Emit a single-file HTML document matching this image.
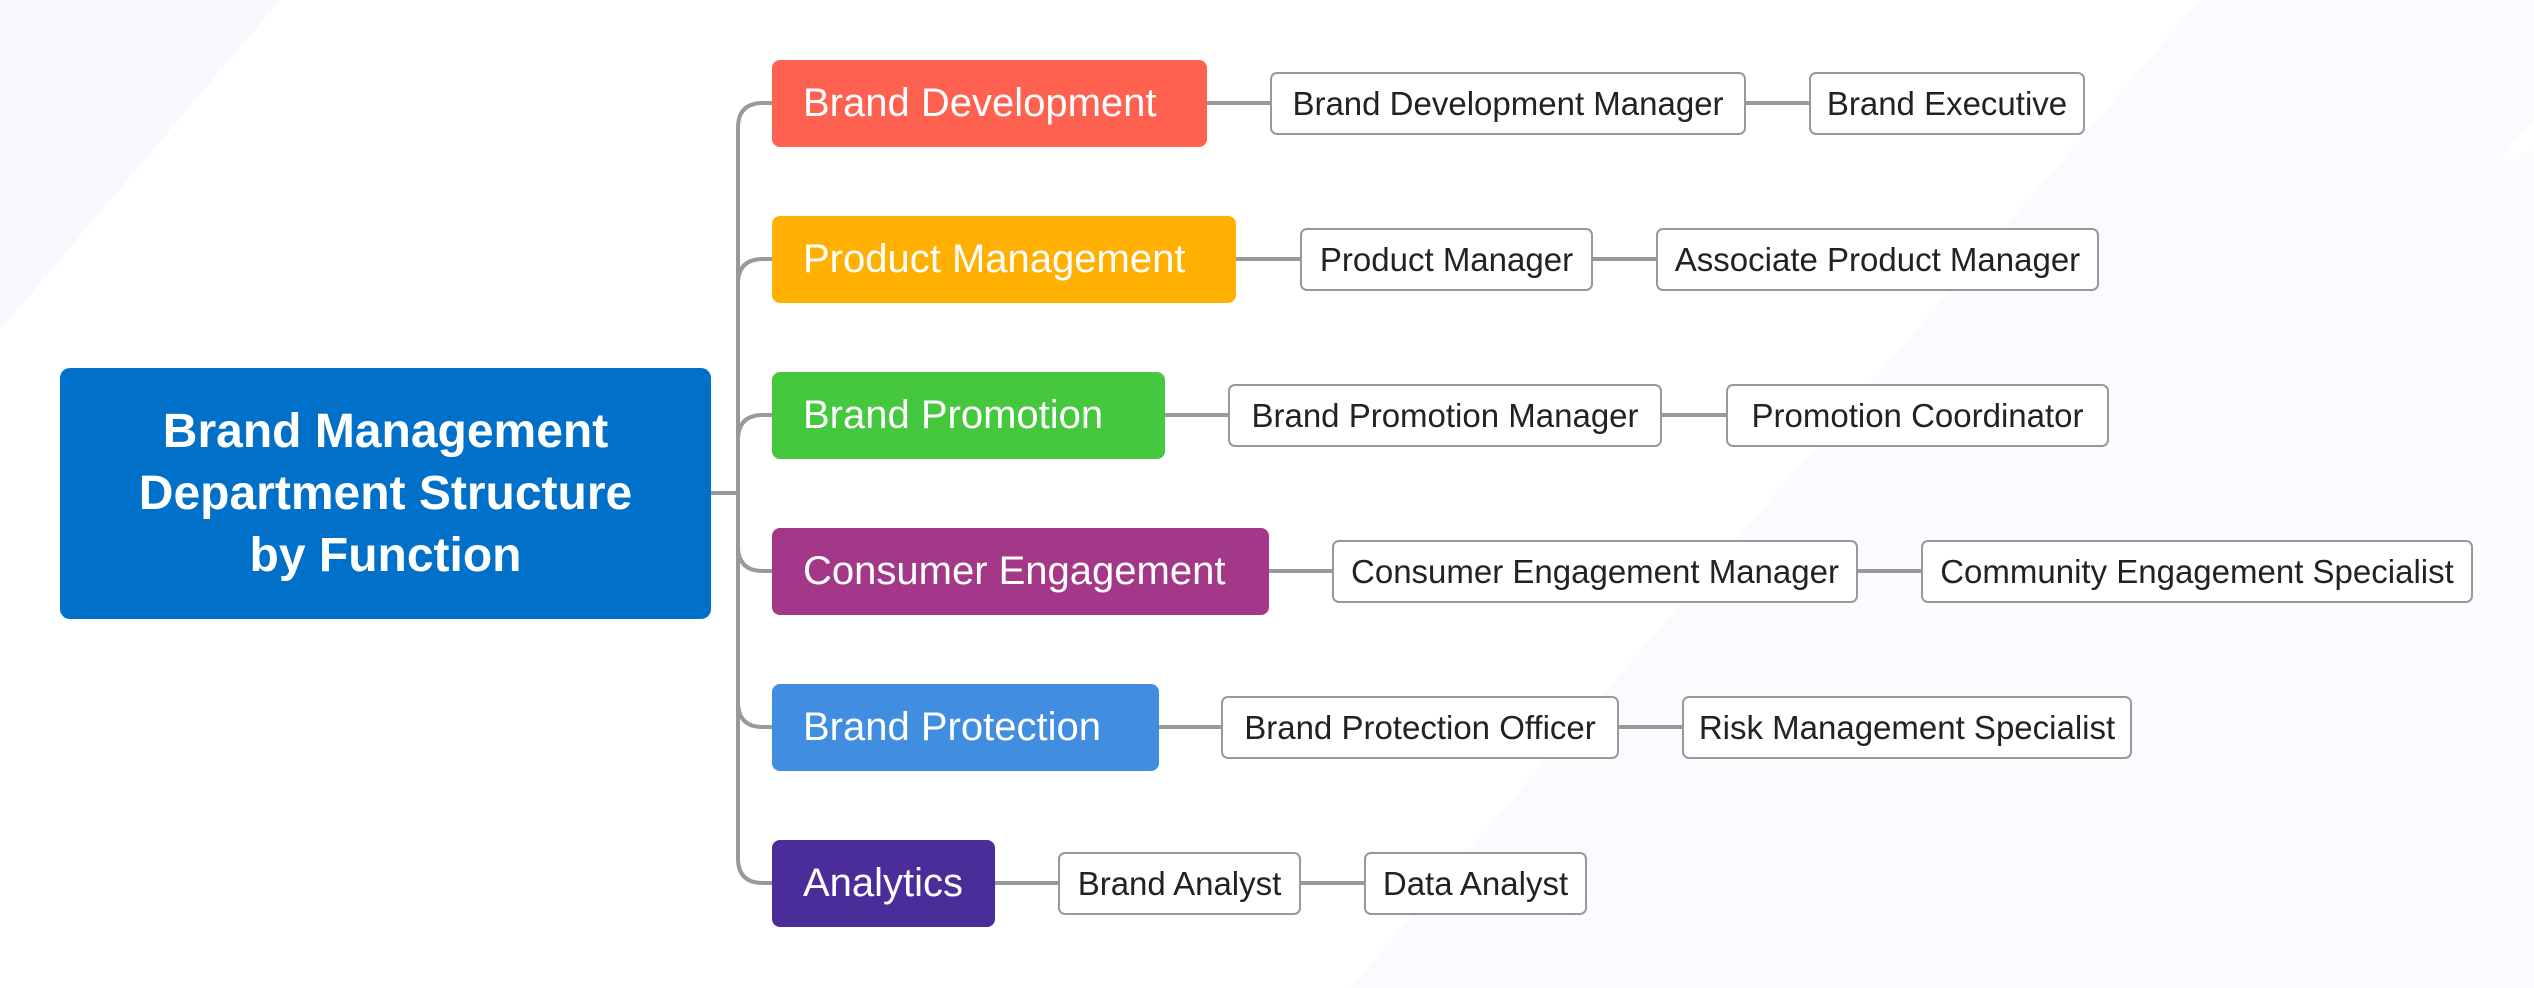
<!DOCTYPE html>
<html><head><meta charset="utf-8"><style>
html,body{margin:0;padding:0;background:#fff}
body{width:2534px;height:988px;overflow:hidden;position:relative;font-family:"Liberation Sans",sans-serif}
.bx{position:absolute;box-sizing:border-box;display:flex;align-items:center;justify-content:center;white-space:nowrap}
.cat{color:#fff;font-size:40px;border-radius:8px;height:87px;justify-content:flex-start;padding-left:31px}
.leaf{background:#fff;border:2px solid #999;border-radius:7px;height:63px;font-size:33px;color:#222}
</style></head><body>
<svg width="2534" height="988" style="position:absolute;left:0;top:0">
<polygon points="0,0 280,0 0,330" fill="#f7f9fe"/>
<polygon points="1350,988 2200,0 2534,0 2534,120 1800,988" fill="#fafbfe"/>
<polygon points="1500,988 2250,200 2534,150 2534,988" fill="#fbfcff"/>
<g stroke="#999" stroke-width="4" fill="none">
<path d="M711 493 H738"/>
<path d="M773 103 H763 Q738 103 738 128 V858 Q738 883 763 883 H773"/>
<path d="M738 284 Q738 259 763 259 H773"/>
<path d="M738 440 Q738 415 763 415 H773"/>
<path d="M738 546 Q738 571 763 571 H773"/>
<path d="M738 702 Q738 727 763 727 H773"/>
<path d="M1207 103 H1270 M1746 103 H1809"/>
<path d="M1236 259 H1300 M1593 259 H1656"/>
<path d="M1165 415 H1228 M1662 415 H1726"/>
<path d="M1269 571 H1332 M1858 571 H1921"/>
<path d="M1159 727 H1221 M1619 727 H1682"/>
<path d="M995 883 H1058 M1301 883 H1364"/>
</g></svg>
<div class="bx" style="left:60px;top:368px;width:651px;height:251px;background:#0070c8;border-radius:10px;color:#fff;font-weight:bold;font-size:48px;line-height:62px;text-align:center;white-space:normal">Brand Management<br>Department Structure<br>by Function</div>
<div class="bx cat" style="left:772px;top:60px;width:435px;background:#ff6150">Brand Development</div>
<div class="bx cat" style="left:772px;top:216px;width:464px;background:#ffb000">Product Management</div>
<div class="bx cat" style="left:772px;top:372px;width:393px;background:#46c83e">Brand Promotion</div>
<div class="bx cat" style="left:772px;top:528px;width:497px;background:#a33888">Consumer Engagement</div>
<div class="bx cat" style="left:772px;top:684px;width:387px;background:#418de0">Brand Protection</div>
<div class="bx cat" style="left:772px;top:840px;width:223px;background:#4a2d99">Analytics</div>
<div class="bx leaf" style="left:1270px;top:72px;width:476px">Brand Development Manager</div>
<div class="bx leaf" style="left:1809px;top:72px;width:276px">Brand Executive</div>
<div class="bx leaf" style="left:1300px;top:228px;width:293px">Product Manager</div>
<div class="bx leaf" style="left:1656px;top:228px;width:443px">Associate Product Manager</div>
<div class="bx leaf" style="left:1228px;top:384px;width:434px">Brand Promotion Manager</div>
<div class="bx leaf" style="left:1726px;top:384px;width:383px">Promotion Coordinator</div>
<div class="bx leaf" style="left:1332px;top:540px;width:526px">Consumer Engagement Manager</div>
<div class="bx leaf" style="left:1921px;top:540px;width:552px">Community Engagement Specialist</div>
<div class="bx leaf" style="left:1221px;top:696px;width:398px">Brand Protection Officer</div>
<div class="bx leaf" style="left:1682px;top:696px;width:450px">Risk Management Specialist</div>
<div class="bx leaf" style="left:1058px;top:852px;width:243px">Brand Analyst</div>
<div class="bx leaf" style="left:1364px;top:852px;width:223px">Data Analyst</div>
</body></html>
